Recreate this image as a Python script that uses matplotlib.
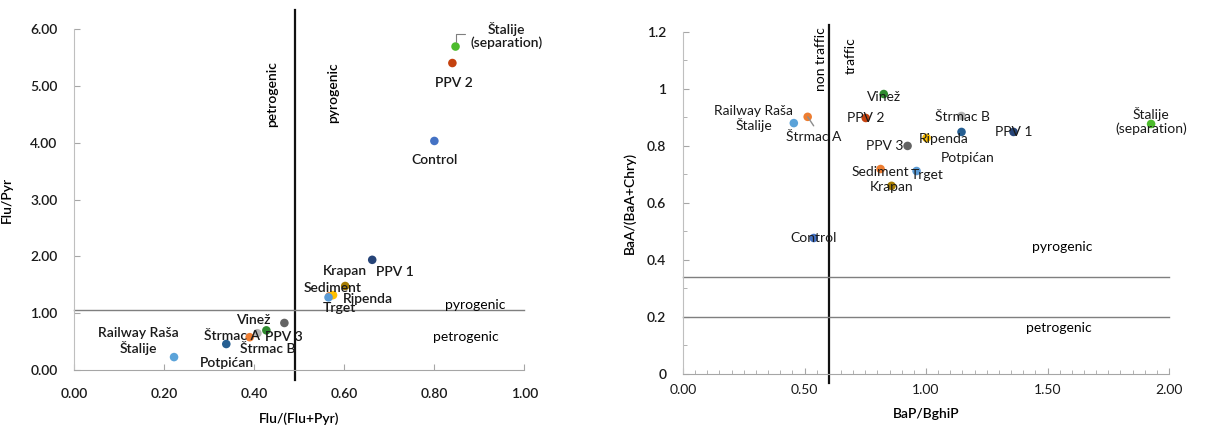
import numpy as np
import matplotlib
matplotlib.use("Agg")
from matplotlib import pyplot as plt

plt.rcParams['font.family'] = ['Lato', 'DejaVu Sans']
plt.rcParams['font.size'] = 10

# sample names and colours (same colour per site in both panels)
sites = ['Štalije\n(separation)', 'PPV 2', 'Control', 'PPV 1', 'Krapan', 'Sediment',
         'Ripenda', 'Trget', 'Vinež', 'PPV 3', 'Štrmac B', 'Štrmac A', 'Potpićan',
         'Railway Raša\nŠtalije']
colors = ['#4cbb2c', '#c5420f', '#4472c4', '#264478', '#a67c00', '#ed7d31',
          '#ffc000', '#5b9bd5', '#2f8a2f', '#636363', '#b4b4b4', '#ed7d31', '#255e91',
          '#5ba3d9']

# left panel: Flu/(Flu+Pyr) vs Flu/Pyr
flu_ratio = [0.847, 0.84, 0.80, 0.662, 0.602, 0.567, 0.575, 0.565, 0.427, 0.467, 0.407, 0.39, 0.338, 0.222]
flu_pyr = [5.69, 5.40, 4.03, 1.94, 1.48, 1.30, 1.32, 1.28, 0.70, 0.83, 0.65, 0.58, 0.46, 0.23]

# right panel: BaP/BghiP vs BaA/(BaA+Chry)
bap_bghip = [1.926, 0.752, 0.538, 1.36, 0.858, 0.813, 1.002, 0.961, 0.826, 0.924, 1.146, 0.513, 1.146, 0.456]
baa_ratio = [0.877, 0.898, 0.477, 0.849, 0.66, 0.719, 0.828, 0.712, 0.982, 0.80, 0.905, 0.902, 0.849, 0.88]

# thresholds
flu_x_thr = 0.49
flu_y_thr = 1.05
bap_x_thr = 0.6
baa_y_thr = [0.34, 0.2]

# label offsets in pixels (dx, dy)
left_off = [(51, 11), (1, -20), (0, -19), (23, -12), (0, 15), (3, 8), (35, -4),
            (11, -11), (-13, 10), (-1, -14), (10, -16), (-18, 1), (1, -19), (-36, 16)]
right_off = [(0, 3), (0, 0), (0, 0), (0, 0), (0, -1), (0, -3), (17, -1), (11, -4),
             (0, -3), (-23, 0), (1, -1), (6, -20), (6, -26), (-40, 5)]

fig = plt.figure(figsize=(12.14, 4.25), dpi=100)
ax1 = fig.add_axes([0.061, 0.129, 0.371, 0.803])
ax2 = fig.add_axes([0.5626, 0.12, 0.4004, 0.805])


def style_axes(ax):
    for s in ['top', 'right']:
        ax.spines[s].set_visible(False)
    ax.spines['left'].set_color('#bfbfbf')
    ax.spines['bottom'].set_color('#a6a6a6')
    ax.tick_params(which='both', direction='in', colors='#a6a6a6', labelcolor='#1a1a1a')
    ax.tick_params(which='major', length=4)
    ax.tick_params(which='minor', length=3)


# ---- left panel
style_axes(ax1)
ax1.tick_params(axis='x', pad=13)
ax1.tick_params(axis='y', pad=12)
ax1.scatter(flu_ratio, flu_pyr, s=38, c=colors, zorder=3, linewidths=0)
for name, x, y, off in zip(sites, flu_ratio, flu_pyr, left_off):
    ax1.annotate(name, (x, y), xytext=off, textcoords='offset pixels',
                 ha='center', va='center', fontweight='semibold', color='#1a1a1a',
                 linespacing=1.1, zorder=4, annotation_clip=False)
ax1.annotate('', xy=(flu_ratio[0], flu_pyr[0]), xytext=(9, 13), textcoords='offset pixels',
             arrowprops=dict(arrowstyle='-', color='#7f7f7f', lw=0.8, shrinkA=0, shrinkB=3,
                             connectionstyle='angle,angleA=0,angleB=90,rad=0'))
ax1.plot([flu_x_thr, flu_x_thr], [-0.18, 6.34], color='#111111', lw=1.6, clip_on=False, zorder=2)
ax1.plot([0, 1.0], [flu_y_thr, flu_y_thr], color='#7f7f7f', lw=1.0, clip_on=False, zorder=2)
ax1.text(0.44, 4.85, 'petrogenic', rotation=90, ha='center', va='center', fontweight='semibold')
ax1.text(0.575, 4.87, 'pyrogenic', rotation=90, ha='center', va='center', fontweight='semibold')
ax1.text(0.89, 1.15, 'pyrogenic', ha='center', va='center')
ax1.text(0.87, 0.58, 'petrogenic', ha='center', va='center')
ax1.set_xlim(0, 1)
ax1.set_ylim(0, 6)
ax1.set_xticks(np.arange(0, 1.01, 0.2))
ax1.set_yticks(np.arange(0, 6.01, 1))
ax1.xaxis.set_major_formatter(plt.FormatStrFormatter('%.2f'))
ax1.yaxis.set_major_formatter(plt.FormatStrFormatter('%.2f'))
for lab in ax1.get_xticklabels() + ax1.get_yticklabels():
    lab.set_fontweight('semibold')
ax1.set_xlabel('Flu/(Flu+Pyr)', fontweight='semibold', labelpad=9)
ax1.set_ylabel('Flu/Pyr', fontweight='semibold', labelpad=12)

# ---- right panel
style_axes(ax2)
ax2.tick_params(axis='x', pad=7)
ax2.tick_params(axis='y', pad=12)
ax2.scatter(bap_bghip, baa_ratio, s=38, c=colors, zorder=3, linewidths=0)
for name, x, y, off in zip(sites, bap_bghip, baa_ratio, right_off):
    ax2.annotate(name, (x, y), xytext=off, textcoords='offset pixels',
                 ha='center', va='center', color='#1a1a1a', linespacing=1.1, zorder=4,
                 annotation_clip=False)
ax2.annotate('', xy=(bap_bghip[11], baa_ratio[11]), xytext=(6, -9), textcoords='offset pixels',
             arrowprops=dict(arrowstyle='-', color='#8c8c8c', lw=1.0, shrinkA=0, shrinkB=0))
ax2.plot([bap_x_thr, bap_x_thr], [-0.03, 1.225], color='#111111', lw=1.6, clip_on=False, zorder=2)
for yv in baa_y_thr:
    ax2.plot([0, 2.0], [yv, yv], color='#7f7f7f', lw=1.0, clip_on=False, zorder=2)
ax2.text(0.567, 1.105, 'non traffic', rotation=90, ha='center', va='center')
ax2.text(0.69, 1.115, 'traffic', rotation=90, ha='center', va='center')
ax2.text(1.56, 0.445, 'pyrogenic', ha='center', va='center')
ax2.text(1.545, 0.16, 'petrogenic', ha='center', va='center')
ax2.set_xlim(0, 2)
ax2.set_ylim(0, 1.2)
ax2.set_xticks(np.arange(0, 2.01, 0.5))
ax2.set_xticks(np.arange(0, 2.01, 0.05), minor=True)
ax2.set_yticks(np.arange(0, 1.21, 0.2))
ax2.set_yticks(np.arange(0, 1.21, 0.1), minor=True)
ax2.xaxis.set_major_formatter(plt.FormatStrFormatter('%.2f'))
ax2.set_yticklabels(['0', '0.2', '0.4', '0.6', '0.8', '1', '1.2'], fontweight='semibold')
ax2.set_xlabel('BaP/BghiP', fontweight='semibold', labelpad=9)
ax2.set_ylabel('BaA/(BaA+Chry)', fontweight='semibold', labelpad=8)

fig.savefig('out.png', dpi=100)
